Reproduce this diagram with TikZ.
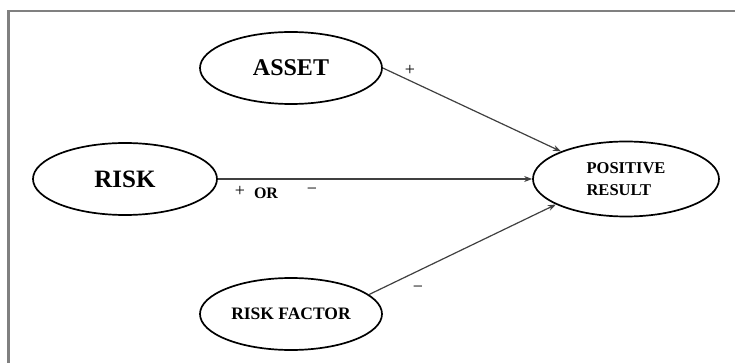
\documentclass[tikz,border=0pt]{standalone}
\usepackage{fontspec}
\setmainfont{Liberation Serif}
\usetikzlibrary{shapes.geometric,arrows.meta}
\begin{document}
\begin{tikzpicture}[x=1pt,y=-1pt,
  oval/.style={ellipse,draw=black,line width=1.7pt,inner sep=0pt,fill=white,font=\bfseries},
  link/.style={draw=black!75,line width=1.2pt,-{Stealth[length=8pt,width=6pt]}},
  sign/.style={inner sep=0pt,font=\fontsize{18}{20}\selectfont}
]
\useasboundingbox (0,0) rectangle (735,363);
\fill[white] (0,0) rectangle (735,363);
\draw[black!50,line width=2.6pt] (8.5,363) -- (8.5,11) -- (735,11);

\node[oval,minimum width=182pt,minimum height=72pt,font=\bfseries\fontsize{24}{26}\selectfont] (asset) at (291,68) {ASSET};
\node[oval,minimum width=184pt,minimum height=72pt,font=\bfseries\fontsize{25}{27}\selectfont] (risk) at (125,179) {RISK};
\node[oval,minimum width=186pt,minimum height=75pt,align=left,font=\bfseries\fontsize{16.5}{22}\selectfont] (pos) at (626,179) {POSITIVE\\RESULT};
\node[oval,minimum width=182pt,minimum height=72pt,font=\bfseries\fontsize{17.5}{19}\selectfont] (rf) at (291,314) {RISK FACTOR};

\draw[link] (asset.east) -- (pos.157);
\draw[link] (risk.east) -- (pos.west);
\draw[link] (rf.14) -- (pos.200);

\node[sign] (l1) at (410,70) {+};
\node[sign] (l2) at (240,191) {+};
\node[sign,font=\bfseries\fontsize{16}{18}\selectfont] (l3) at (266,193) {OR};
\node[sign] (l4) at (312,191) {−};
\node[sign] (l5) at (418,289) {−};
\end{tikzpicture}
\end{document}
